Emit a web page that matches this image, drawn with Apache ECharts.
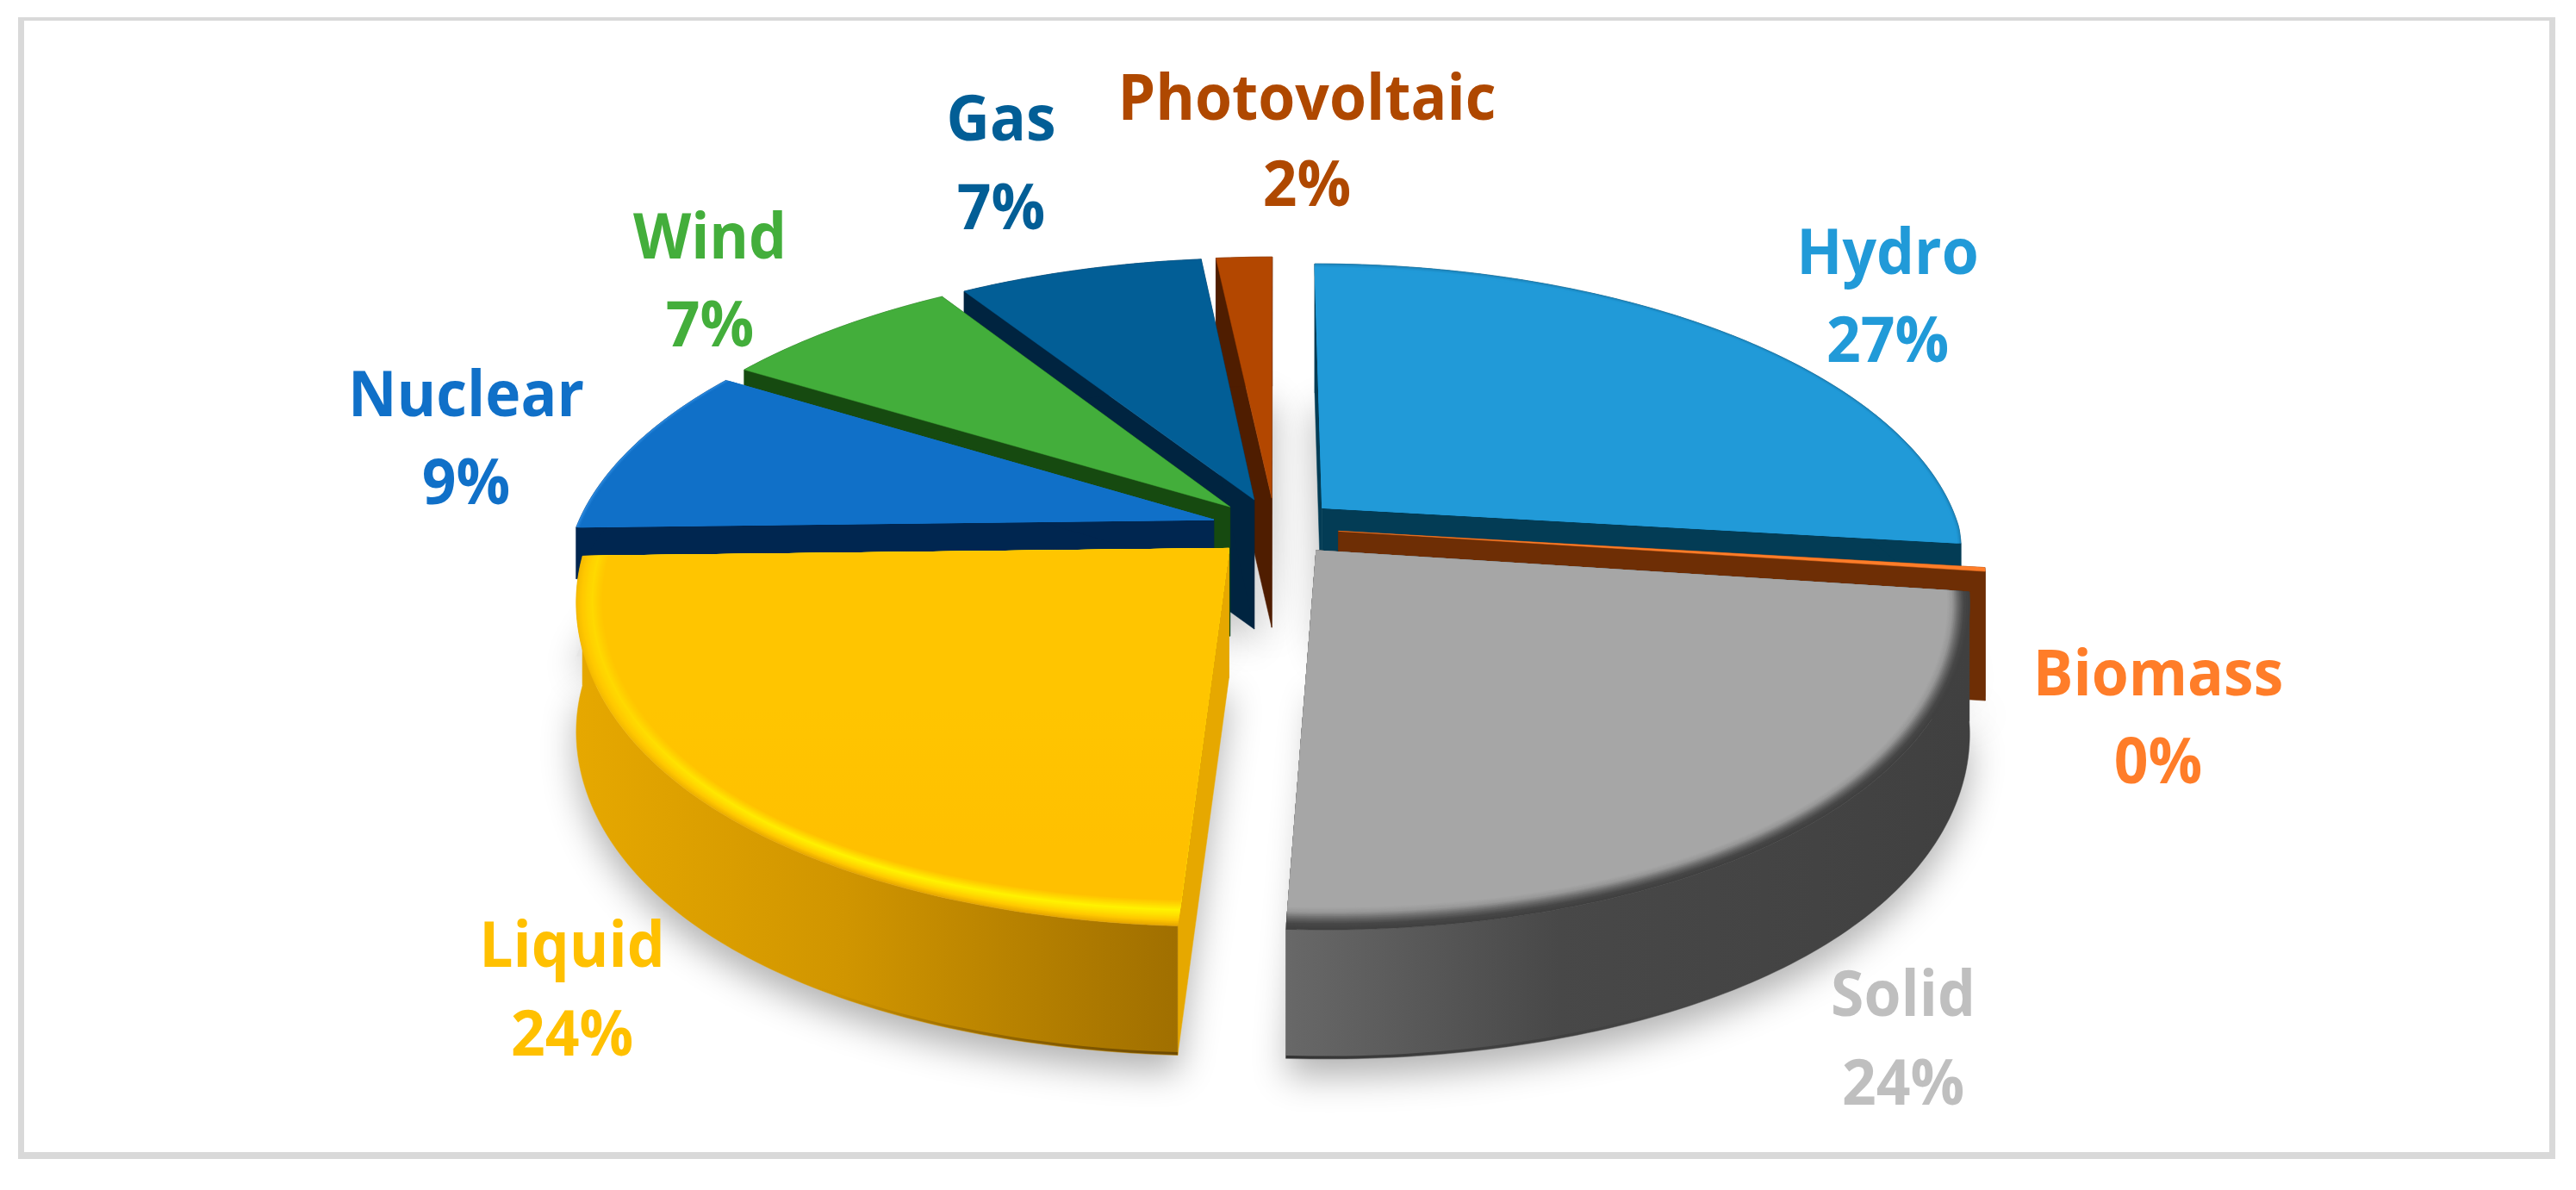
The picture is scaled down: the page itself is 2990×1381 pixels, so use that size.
<!DOCTYPE html>
<html>
<head>
<meta charset="utf-8">
<style>
  html, body { margin: 0; padding: 0; background: #fff; }
  #pie { width: 2990px; height: 1381px; }
</style>
<script src="https://cdn.jsdelivr.net/npm/echarts@6/dist/echarts.min.js"></script>
</head>
<body>
<div id="pie"></div>
<script>
// data, clockwise from 12 o'clock
var names = ['Hydro', 'Biomass', 'Solid', 'Liquid', 'Nuclear', 'Wind', 'Gas', 'Photovoltaic'];
var shares = [26.9, 0.2, 23.7, 23.8, 9.1, 7.2, 7.4, 1.7];

// look of the slices
var labelColors = ['#219AD8', '#FF7D29', '#BFBFBF', '#FFC000', '#1070C8', '#43AE3B', '#025E96', '#AF4800'];
var topColors = ['#219AD8', '#FF7D29', '#A6A6A6', '#FFC000', '#1070C8', '#43AE3B', '#025E96', '#B34700'];
var sideColors = ['#033C55', '#6E2E05', '#404040', '#E6A800', '#002650', '#164A10', '#002440', '#4F1D00'];
var rimWidths = [6, 0, 26, 30, 6, 0, 0, 0];
var rimColors = [
  ['#1c86be', '#219AD8', '#219AD8'], null,
  ['#404040', '#484848', '#6a6a6a', '#989898', '#A6A6A6'],
  ['#E8A800', '#FFC800', '#FFE000', '#FFF200', '#FFD800', '#FFC000'],
  ['#2b88de', '#1070C8', '#1070C8'], null, null, null
];
var wallStops = [
  null, null,
  [[0, '#404040'], [0.6, '#484848'], [1, '#686868']],
  [[0, '#E6A800'], [0.45, '#D09500'], [1, '#A06F00']],
  null, null, null, null
];
var footColors = [null, null, '#303030', '#6e4a00', null, null, null, null];
// wall heights, nuclear is cut short so it stays hidden behind liquid
var wallDepths = [150, 150, 150, 150, 60, 150, 150, 150];
// painted back to front
var drawOrder = [0, 7, 6, 5, 4, 1, 2, 3];

// label centres, name line and value line
var labelX = [2191, 2505, 2209, 664, 541, 824, 1162, 1517];
var labelY = [291, 780, 1152, 1095, 456, 273, 136, 112];
var valueY = [393, 882, 1255, 1198, 558, 375, 239, 212];

// projection of the disc
var CX = 1480, CY = 612, RX = 740, RY = 345, K = 0.19, EXPLODE = 0.1, DEPTH = 150;

var total = shares.reduce(function (a, b) { return a + b; }, 0);
var startAngles = [];
var sum = 0;
shares.forEach(function (s) {
  startAngles.push(sum / total * Math.PI * 2);
  sum += s;
});

function project(u, v) {
  var w = 1 / (1 - K * v);
  // the reference is a little narrower than true perspective on its front flanks
  var wx = v > 0 && v < 1 ? w * (1 - 0.015 * Math.sin(Math.PI * v)) : w;
  return [CX + RX * u * wx, CY + RY * v * w];
}

function down(p) {
  return [p[0], p[1] + DEPTH];
}

// apex and outer arc of one slice on screen
function sliceGeometry(i) {
  var a0 = startAngles[i];
  var a1 = a0 + shares[i] / total * Math.PI * 2;
  var mid = (a0 + a1) / 2;
  var ou = Math.sin(mid) * EXPLODE;
  var ov = -Math.cos(mid) * EXPLODE;
  var steps = Math.max(2, Math.ceil((a1 - a0) / 0.015));
  var arc = [];
  for (var s = 0; s <= steps; s++) {
    var a = a0 + (a1 - a0) * s / steps;
    arc.push(project(ou + Math.sin(a), ov - Math.cos(a)));
  }
  return { apex: project(ou, ov), arc: arc };
}

function insetArc(geo, t) {
  return geo.arc.map(function (p) {
    var dx = geo.apex[0] - p[0];
    var dy = geo.apex[1] - p[1];
    var len = Math.sqrt(dx * dx + dy * dy);
    return [p[0] + dx / len * t, p[1] + dy / len * t];
  });
}

function renderShadow(params) {
  var geo = sliceGeometry(drawOrder[params.dataIndex]);
  return {
    type: 'polygon',
    silent: true,
    shape: { points: [geo.apex].concat(geo.arc).map(down) },
    style: {
      fill: '#e6e6e6',
      shadowBlur: 40,
      shadowColor: 'rgba(0,0,0,0.3)',
      shadowOffsetX: 0,
      shadowOffsetY: 20
    }
  };
}

function poly(points, fill) {
  return {
    type: 'polygon',
    silent: true,
    shape: { points: points },
    style: { fill: fill, stroke: fill, lineWidth: 0.5 }
  };
}

function renderSlice(params) {
  var i = drawOrder[params.dataIndex];
  var geo = sliceGeometry(i);
  var arc = geo.arc;
  var first = arc[0];
  var last = arc[arc.length - 1];
  var children = [];
  var lower = function (p) { return [p[0], p[1] + wallDepths[i]]; };

  // radial walls
  children.push(poly([geo.apex, first, lower(first), lower(geo.apex)], sideColors[i]));
  children.push(poly([geo.apex, last, lower(last), lower(geo.apex)], sideColors[i]));

  // outer wall
  var wallFill = sideColors[i];
  if (wallStops[i]) {
    wallFill = new echarts.graphic.LinearGradient(0, 0, 1, 0, wallStops[i].map(function (st) {
      return { offset: st[0], color: st[1] };
    }));
    if (i === 2) {
      // solid runs right to left, brightest at its left end
      wallFill = new echarts.graphic.LinearGradient(1, 0, 0, 0, wallStops[i].map(function (st) {
        return { offset: st[0], color: st[1] };
      }));
    }
  }
  children.push(poly(arc.concat(arc.map(lower).reverse()), wallFill));
  // dark foot of the wall, fading away from the front
  if (footColors[i]) {
    var x0 = i === 3 ? 1 : 0;
    children.push({
      type: 'polyline',
      silent: true,
      shape: { points: arc.map(function (p) { return [p[0], p[1] + DEPTH - 2]; }) },
      style: {
        fill: null,
        lineWidth: 3,
        stroke: new echarts.graphic.LinearGradient(x0, 0, 1 - x0, 0, [
          { offset: 0, color: footColors[i] },
          { offset: 0.6, color: echarts.color.modifyAlpha(footColors[i], 0) },
          { offset: 1, color: echarts.color.modifyAlpha(footColors[i], 0) }
        ])
      }
    });
  }

  // top face, rim first and then inwards
  if (rimWidths[i] > 0) {
    var layers = rimWidths[i];
    for (var l = 0; l <= layers; l += 2) {
      var c = echarts.color.lerp(l / layers, rimColors[i]);
      var fill = c;
      if (i === 3) {
        // the liquid rim only glows at the front, duller towards the left
        var dull = echarts.color.lerp(0.6, [c, '#FFC800']);
        fill = new echarts.graphic.LinearGradient(0, 0, 0, 1, [
          { offset: 0, color: dull },
          { offset: 0.45, color: dull },
          { offset: 0.85, color: c },
          { offset: 1, color: c }
        ]);
      }
      children.push(poly([geo.apex].concat(insetArc(geo, l)), fill));
    }
  } else {
    children.push(poly([geo.apex].concat(arc), topColors[i]));
  }
  return { type: 'group', children: children };
}

function labelText(x, y, text, color) {
  return {
    type: 'text',
    silent: true,
    x: x,
    y: y + 6,
    scaleX: 0.94,
    style: {
      x: 0,
      y: 0,
      text: text,
      fill: color,
      fontFamily: 'Open Sans',
      fontWeight: 700,
      fontSize: 74,
      align: 'center',
      verticalAlign: 'middle'
    }
  };
}

function renderLabel(params) {
  var i = params.dataIndex;
  return {
    type: 'group',
    children: [
      labelText(labelX[i], labelY[i], names[i], labelColors[i]),
      labelText(labelX[i], valueY[i], Math.round(shares[i]) + '%', labelColors[i])
    ]
  };
}

var sliceData = drawOrder.map(function (i) { return [i, shares[i]]; });
var labelData = shares.map(function (s, i) { return [i, s]; });

var frameColor = '#d9d9d9';
var option = {
  backgroundColor: '#fff',
  animation: false,
  graphic: [
    { type: 'rect', silent: true, shape: { x: 21, y: 20, width: 2945, height: 4 }, style: { fill: frameColor } },
    { type: 'rect', silent: true, shape: { x: 21, y: 1337, width: 2945, height: 8 }, style: { fill: frameColor } },
    { type: 'rect', silent: true, shape: { x: 21, y: 20, width: 7, height: 1325 }, style: { fill: frameColor } },
    { type: 'rect', silent: true, shape: { x: 2959, y: 20, width: 7, height: 1325 }, style: { fill: frameColor } }
  ],
  series: [
    { type: 'custom', coordinateSystem: 'none', z: 3, renderItem: renderShadow, data: sliceData },
    { type: 'custom', coordinateSystem: 'none', z: 4, renderItem: renderSlice, data: sliceData },
    { type: 'custom', coordinateSystem: 'none', z: 5, renderItem: renderLabel, data: labelData }
  ]
};

var pie = document.getElementById('pie');
var ech = echarts.init(pie);
ech.setOption(option);
</script>
</body>
</html>
